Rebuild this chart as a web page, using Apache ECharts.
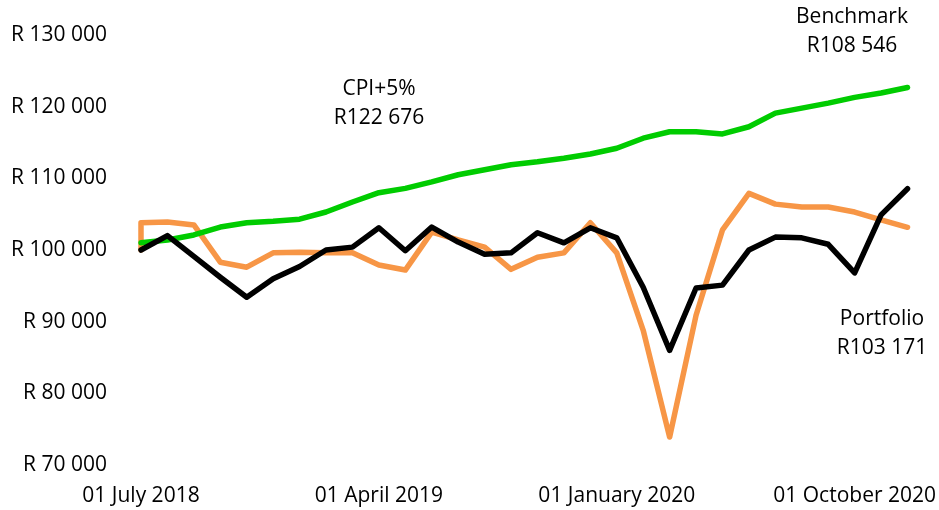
<!DOCTYPE html>
<html>
<head>
<meta charset="utf-8">
<script src="https://cdn.jsdelivr.net/npm/echarts@6/dist/echarts.min.js"></script>
<style>
  html, body { margin: 0; padding: 0; background: #fff; }
  #chart { width: 939px; height: 510px; }
</style>
</head>
<body>
<div id="chart"></div>
<script>
// Months (July 2018 .. December 2020)
const months = [
  'Jul 2018','Aug 2018','Sep 2018','Oct 2018','Nov 2018','Dec 2018',
  'Jan 2019','Feb 2019','Mar 2019','Apr 2019','May 2019','Jun 2019',
  'Jul 2019','Aug 2019','Sep 2019','Oct 2019','Nov 2019','Dec 2019',
  'Jan 2020','Feb 2020','Mar 2020','Apr 2020','May 2020','Jun 2020',
  'Jul 2020','Aug 2020','Sep 2020','Oct 2020','Nov 2020','Dec 2020'
];
const xTickLabels = ['01 July 2018', '01 April 2019', '01 January 2020', '01 October 2020'];
const xTickStep = 9;
const yTicks = [70000, 80000, 90000, 100000, 110000, 120000, 130000];

// Series values
const portfolioStart = 100000;
const portfolio = [
  103800, 103900, 103500, 98300, 97600, 99600, 99700, 99600, 99600, 97900,
  97200, 102500, 101400, 100400, 97300, 99000, 99600, 103800, 99600, 88800,
  73900, 90900, 102800, 107900, 106400, 106000, 106000, 105300, 104200, 103171
];
const cpiPlus5 = [
  101000, 101400, 102100, 103200, 103800, 104000, 104300, 105300, 106700, 108000,
  108600, 109500, 110500, 111200, 111900, 112300, 112800, 113400, 114200, 115600,
  116500, 116500, 116200, 117200, 119100, 119800, 120500, 121300, 121900, 122676
];
const benchmark = [
  100000, 102000, 99100, 96200, 93400, 96000, 97700, 100000, 100400, 103100,
  99900, 103200, 101100, 99400, 99600, 102400, 101000, 103100, 101700, 94800,
  86000, 94700, 95100, 100000, 101800, 101700, 100800, 96800, 104900, 108546
];

const annotations = [
  { text: 'Benchmark\nR108 546', x: 852, y: 3 },
  { text: 'CPI+5%\nR122 676', x: 379, y: 75 },
  { text: 'Portfolio\nR103 171', x: 882, y: 305 }
];

const FONT = '"Open Sans", "Liberation Sans", sans-serif';
const FS = 21;

function fmtRand(v) {
  return 'R ' + String(v).replace(/\B(?=(\d{3})+(?!\d))/g, ' ');
}

const portfolioData = [[0, portfolioStart]].concat(portfolio.map((v, i) => [i, v]));
const cpiData = cpiPlus5.map((v, i) => [i, v]);
const benchData = benchmark.map((v, i) => [i, v]);

const chart = echarts.init(document.getElementById('chart'), null, { renderer: 'canvas' });
const lineCommon = { type: 'line', symbol: 'none', smooth: false, animation: false };

chart.setOption({
  animation: false,
  backgroundColor: '#ffffff',
  grid: { left: 141, right: 29, top: 35, bottom: 45, containLabel: false },
  xAxis: {
    type: 'value',
    min: 0,
    max: months.length - 1,
    interval: xTickStep,
    axisLine: { show: false },
    axisTick: { show: false },
    splitLine: { show: false },
    axisLabel: {
      margin: 21,
      fontFamily: FONT,
      fontSize: FS,
      color: '#000',
      formatter: function (v) {
        if (v % xTickStep !== 0) return '';
        const idx = v / xTickStep;
        return xTickLabels[idx] || '';
      }
    }
  },
  yAxis: {
    type: 'value',
    min: yTicks[0],
    max: yTicks[yTicks.length - 1],
    interval: yTicks[1] - yTicks[0],
    axisLine: { show: false },
    axisTick: { show: false },
    splitLine: { show: false },
    axisLabel: {
      margin: 34,
      fontFamily: FONT,
      fontSize: FS,
      color: '#000',
      formatter: fmtRand
    }
  },
  series: [
    Object.assign({}, lineCommon, {
      name: 'Portfolio', data: portfolioData, z: 2,
      lineStyle: { color: '#F79646', width: 5.5, cap: 'round', join: 'round' }
    }),
    Object.assign({}, lineCommon, {
      name: 'CPI+5%', data: cpiData, z: 3,
      lineStyle: { color: '#00CC00', width: 5.5, cap: 'round', join: 'round' }
    }),
    Object.assign({}, lineCommon, {
      name: 'Benchmark', data: benchData, z: 4,
      lineStyle: { color: '#000000', width: 5.5, cap: 'round', join: 'round' }
    })
  ],
  graphic: annotations.map(a => ({
    type: 'text',
    x: a.x,
    y: a.y,
    style: {
      text: a.text,
      fill: '#000',
      font: FS + 'px ' + FONT,
      textAlign: 'center',
      textVerticalAlign: 'top',
      lineHeight: 29
    }
  }))
});
</script>
</body>
</html>
